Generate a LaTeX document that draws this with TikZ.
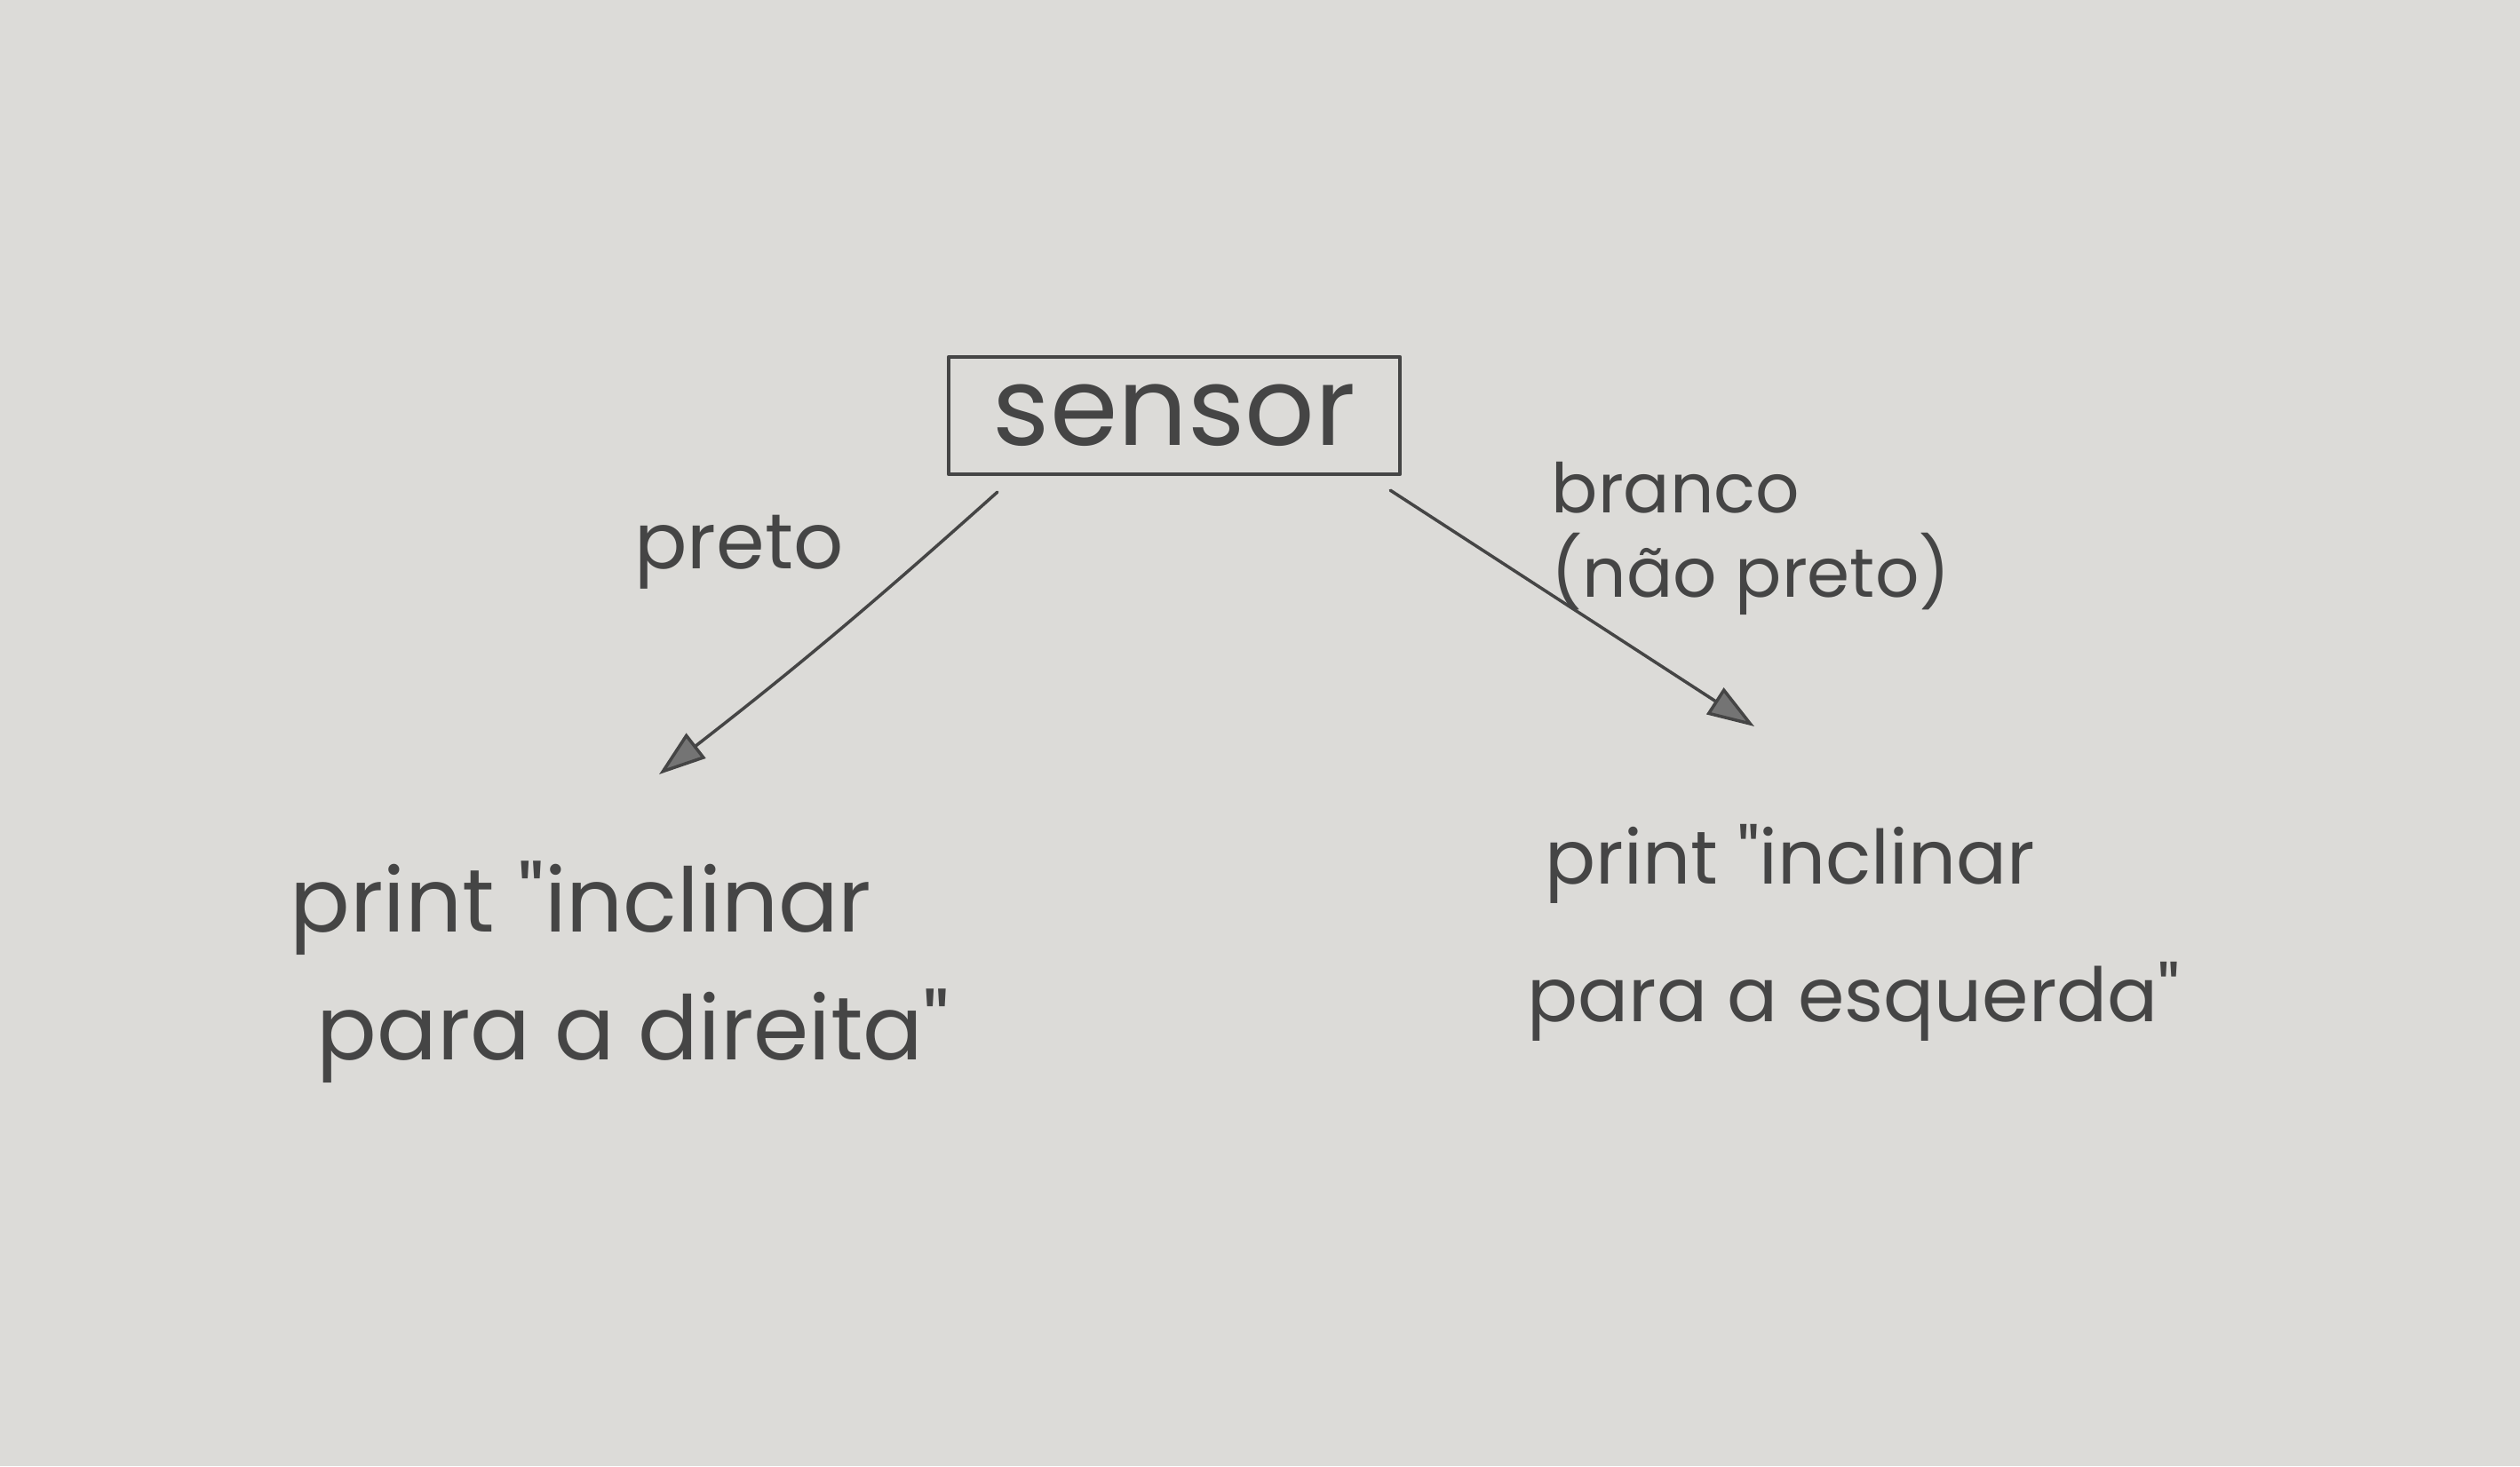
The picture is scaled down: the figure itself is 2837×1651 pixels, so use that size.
\documentclass[tikz,border=0pt]{standalone}
\usepackage{fontspec}
\setmainfont{Poppins}[Ligatures=TeXOff]
\usetikzlibrary{arrows.meta}
\definecolor{paper}{HTML}{DCDBD8}
\definecolor{pencil}{HTML}{454545}
\begin{document}
\begin{tikzpicture}[x=0.01cm,y=-0.01cm,
  pen/.style={draw=pencil,line width=1.2pt,line cap=round,line join=round},
  txt/.style={text=pencil,inner sep=0pt},
  conn/.style={pen,line width=1pt,-{Triangle[length=15pt,width=10pt,fill=pencil!75]}}]
\fill[paper] (0,0) rectangle (2837,1651);
\useasboundingbox (0,0) rectangle (2837,1651);
\node[pen,inner sep=0pt,minimum width=5.08cm,minimum height=1.32cm,txt,font=\fontsize{35}{40}\selectfont,draw=pencil] (box) at (1322,468) {sensor};
\coordinate (ls) at ([xshift=0.57cm,yshift=-0.18cm]box.south west);
\coordinate (le) at (742,872);
\coordinate (rs) at ([xshift=-0.13cm,yshift=-0.16cm]box.south east);
\coordinate (re) at (1975,818);
\draw[conn] (ls) to[bend left=2] (le);
\draw[conn] (rs) -- (re);
\node[txt,font=\fontsize{25}{30}\selectfont] (preto) at (832,622) {preto};
\node[txt,anchor=west,align=left,font=\fontsize{22}{27}\selectfont] (branco) at (1746,606) {branco\\(não preto)};
\node[txt,anchor=west,align=left,font=\fontsize{28.5}{41}\selectfont] (left) at (326,1095) {print "inclinar\\\hspace{0.3cm}para a direita"};
\node[txt,anchor=west,align=left,font=\fontsize{24}{44}\selectfont] (right) at (1719,1050) {\hspace{0.2cm}print "inclinar\\para a esquerda"};
\end{tikzpicture}
\end{document}
